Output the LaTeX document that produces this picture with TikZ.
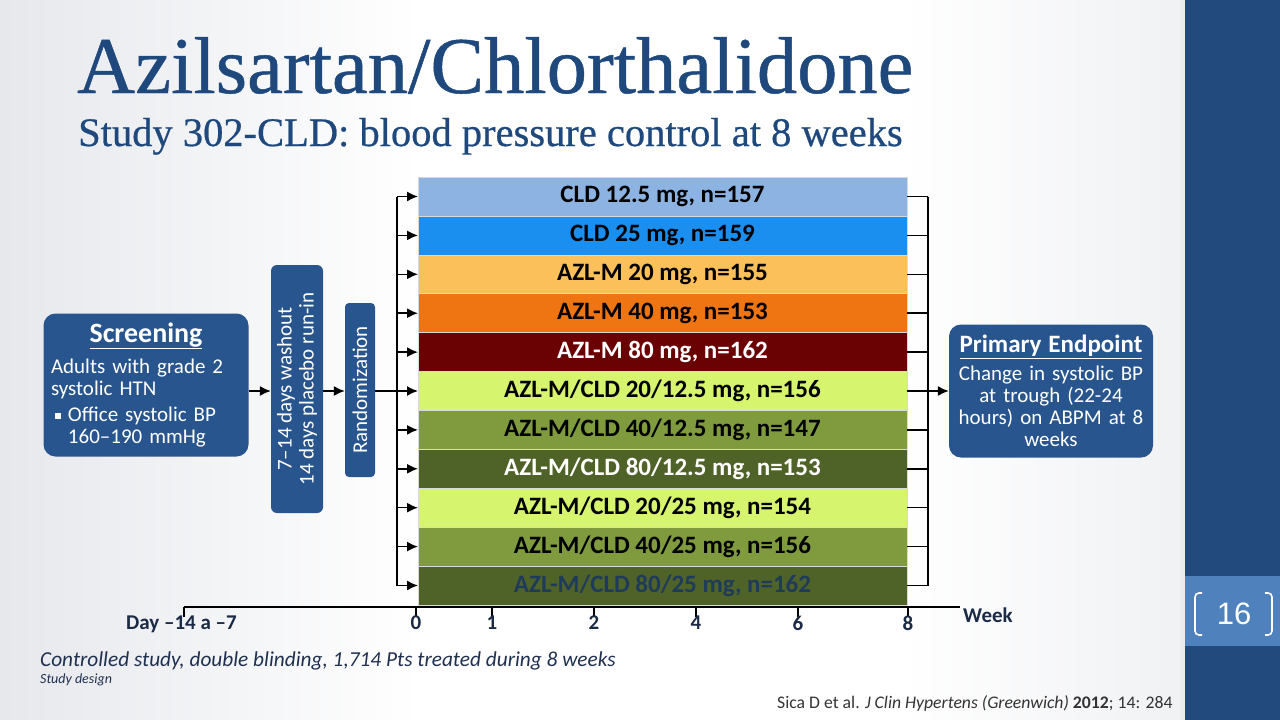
\documentclass[tikz,border=0pt]{standalone}
\usepackage{fontspec}
\setmainfont{Carlito}
\newfontfamily\slidefont[FakeBold=0.6]{Liberation Serif}
\newfontfamily\pagefont{Liberation Sans}
\usepackage{tikz}
\usetikzlibrary{positioning}
\usetikzlibrary{arrows.meta}

\definecolor{titleblue}{HTML}{1F497D}
\definecolor{boxblue}{HTML}{28558E}
\definecolor{sidebar}{HTML}{224A7C}
\definecolor{pagebox}{HTML}{4F81BD}
\definecolor{axisnavy}{HTML}{1B2A45}
\definecolor{notenavy}{HTML}{1F3050}
\definecolor{bgleft}{HTML}{E6E8EC}
\definecolor{cldlight}{HTML}{8DB3E2}
\definecolor{cldbright}{HTML}{1A8FF0}
\definecolor{azllight}{HTML}{FCC05A}
\definecolor{azlorange}{HTML}{EE7511}
\definecolor{azldark}{HTML}{6A0204}
\definecolor{combolight}{HTML}{D6F46E}
\definecolor{combomid}{HTML}{7F9B3E}
\definecolor{combodark}{HTML}{4F6228}
\definecolor{lasttext}{HTML}{1F3B5C}

\begin{document}
\begin{tikzpicture}[x=1pt, y=-1pt, >={Latex[length=11pt,width=10pt]}]
% Style definitions
\tikzset{
    panel/.style={fill=boxblue, text=white, inner sep=0pt, align=center,
                  font=\fontsize{21}{22}\selectfont},
    arm/.style={minimum width=489pt, minimum height=38.9pt, inner sep=0pt,
                outer sep=0pt, draw=black!15, line width=0.6pt,
                font=\fontsize{25}{28}\selectfont\bfseries},
    link/.style={->, line width=1.5pt},
    wire/.style={line width=1.5pt},
    ticklabel/.style={text=axisnavy, font=\fontsize{21}{24}\selectfont\bfseries}
}

% Slide background
\useasboundingbox (0,0) rectangle (1280,720);
\shade[left color=bgleft, right color=white] (0,0) rectangle (420,720);
\fill[white] (420,0) rectangle (900,720);
\shade[left color=white, right color=bgleft!60] (900,0) rectangle (1185,720);
\fill[black!8] (1181,0) rectangle (1185,720);
\fill[sidebar] (1185,0) rectangle (1280,720);
\fill[pagebox] (1185,576) rectangle (1280,646);

% Page number
\node[text=white, font=\pagefont\fontsize{31}{31}\selectfont] (page) at (1234,614) {16};
\draw[white, line width=1.6pt, rounded corners=4pt] (1202,593) -- (1195,593) -- (1195,635) -- (1202,635);
\draw[white, line width=1.6pt, rounded corners=4pt] (1265,593) -- (1272,593) -- (1272,635) -- (1265,635);

% Titles
\node[anchor=base west, inner sep=0pt, text=titleblue,
      font=\slidefont\fontsize{80.5}{80}\selectfont] (title) at (77,93) {Azilsartan/Chlorthalidone};
\node[anchor=base west, inner sep=0pt, text=titleblue,
      font=\slidefont\fontsize{40.5}{40}\selectfont] (subtitle) at (78,146)
      {Study 302-CLD: blood pressure control at 8 weeks};

% Study flow boxes
\node[panel, rounded corners=12pt, minimum width=205pt, minimum height=143pt,
      text width=190pt, align=left] (screen) at (146,385) {
    \makebox[190pt]{\fontsize{28}{28}\selectfont\bfseries\underline{Screening}}\\[9pt]
    Adults with grade 2\\
    systolic HTN\\[4pt]
    \hspace*{4pt}\rule[3pt]{6pt}{6pt}\hspace{7pt}Office systolic BP\\
    \hspace*{17pt}160–190 mmHg
};

\node[panel, rounded corners=6pt, rotate=90, minimum width=248pt,
      minimum height=52pt] (wash) at (297,389) {
    7–14 days washout\\
    14 days placebo run-in
};

\node[panel, rounded corners=4pt, rotate=90, minimum width=174pt,
      minimum height=30pt] (rand) at (360,390) {Randomization};

% Treatment arms
\node[arm, fill=cldlight] (arm1) at (662.5,196.5) {CLD 12.5 mg, n=157};
\node[arm, fill=cldbright, below=0pt of arm1] (arm2) {CLD 25 mg, n=159};
\node[arm, fill=azllight, below=0pt of arm2] (arm3) {AZL-M 20 mg, n=155};
\node[arm, fill=azlorange, below=0pt of arm3] (arm4) {AZL-M 40 mg, n=153};
\node[arm, fill=azldark, text=white, below=0pt of arm4] (arm5) {AZL-M 80 mg, n=162};
\node[arm, fill=combolight, below=0pt of arm5] (arm6) {AZL-M/CLD 20/12.5 mg, n=156};
\node[arm, fill=combomid, below=0pt of arm6] (arm7) {AZL-M/CLD 40/12.5 mg, n=147};
\node[arm, fill=combodark, text=white, below=0pt of arm7] (arm8) {AZL-M/CLD 80/12.5 mg, n=153};
\node[arm, fill=combolight, below=0pt of arm8] (arm9) {AZL-M/CLD 20/25 mg, n=154};
\node[arm, fill=combomid, below=0pt of arm9] (arm10) {AZL-M/CLD 40/25 mg, n=156};
\node[arm, fill=combodark, text=lasttext, below=0pt of arm10] (arm11) {AZL-M/CLD 80/25 mg, n=162};

% Endpoint box
\node[panel, rounded corners=12pt, minimum width=204pt, minimum height=133pt,
      text width=196pt] (endpoint) at (1051,391) {
    {\fontsize{25}{25}\selectfont\bfseries\underline{Primary Endpoint}}\\[6pt]
    Change in systolic BP\\
    at trough (22-24\\
    hours) on ABPM at 8\\
    weeks
};

% Split and merge points
\coordinate (split) at (397,391);
\coordinate (merge) at (928,391);

% Flow arrows
\draw[link] (screen.east |- split) -- (wash.north |- split);
\draw[link] (wash.south |- split) -- (rand.north |- split);
\draw[wire] (rand.south |- split) -- (split);
\draw[wire] (split |- arm1.west) -- (split |- arm11.west);

\draw[link] (split |- arm1.west) -- (arm1.west);
\draw[link] (split |- arm2.west) -- (arm2.west);
\draw[link] (split |- arm3.west) -- (arm3.west);
\draw[link] (split |- arm4.west) -- (arm4.west);
\draw[link] (split |- arm5.west) -- (arm5.west);
\draw[link] (split |- arm6.west) -- (arm6.west);
\draw[link] (split |- arm7.west) -- (arm7.west);
\draw[link] (split |- arm8.west) -- (arm8.west);
\draw[link] (split |- arm9.west) -- (arm9.west);
\draw[link] (split |- arm10.west) -- (arm10.west);
\draw[link] (split |- arm11.west) -- (arm11.west);

\draw[wire] (arm1.east) -- (merge |- arm1.east);
\draw[wire] (arm2.east) -- (merge |- arm2.east);
\draw[wire] (arm3.east) -- (merge |- arm3.east);
\draw[wire] (arm4.east) -- (merge |- arm4.east);
\draw[wire] (arm5.east) -- (merge |- arm5.east);
\draw[wire] (arm6.east) -- (merge |- arm6.east);
\draw[wire] (arm7.east) -- (merge |- arm7.east);
\draw[wire] (arm8.east) -- (merge |- arm8.east);
\draw[wire] (arm9.east) -- (merge |- arm9.east);
\draw[wire] (arm10.east) -- (merge |- arm10.east);
\draw[wire] (arm11.east) -- (merge |- arm11.east);
\draw[wire] (merge |- arm1.east) -- (merge |- arm11.east);
\draw[link] (merge) -- (endpoint.west);

% Time axis
\draw[wire] (184,607) -- (960,607);
\draw[wire] (184,607) -- (184,617);
\draw[wire] (416,607) -- (416,617);
\draw[wire] (492,607) -- (492,617);
\draw[wire] (594,607) -- (594,617);
\draw[wire] (696,607) -- (696,617);
\draw[wire] (798,607) -- (798,617);
\draw[wire] (908,607) -- (908,617);

\node[ticklabel] (dayl) at (181.5,624) {Day –14 a –7};
\node[ticklabel] (w0) at (416,623) {0};
\node[ticklabel] (w1) at (492,623) {1};
\node[ticklabel] (w2) at (594,623) {2};
\node[ticklabel] (w4) at (696,623) {4};
\node[ticklabel] (w6) at (798,623) {6};
\node[ticklabel] (w8) at (908,623) {8};
\node[ticklabel, anchor=west, inner sep=0pt] (weekl) at (963,615) {Week};

% Footnotes
\node[anchor=west, inner sep=0pt, text=notenavy,
      font=\fontsize{21.3}{21}\selectfont\itshape] (note) at (40,661)
      {Controlled study, double blinding, 1,714 Pts treated during 8 weeks};
\node[anchor=west, inner sep=0pt, text=notenavy,
      font=\fontsize{14}{14}\selectfont\itshape] (design) at (40,680) {Study design};
\node[anchor=west, inner sep=0pt, text=black!80,
      font=\fontsize{17.7}{17}\selectfont] (cite) at (777,703)
      {Sica D et al. \textit{J Clin Hypertens (Greenwich)} \textbf{2012}; 14: 284};

\end{tikzpicture}
\end{document}
